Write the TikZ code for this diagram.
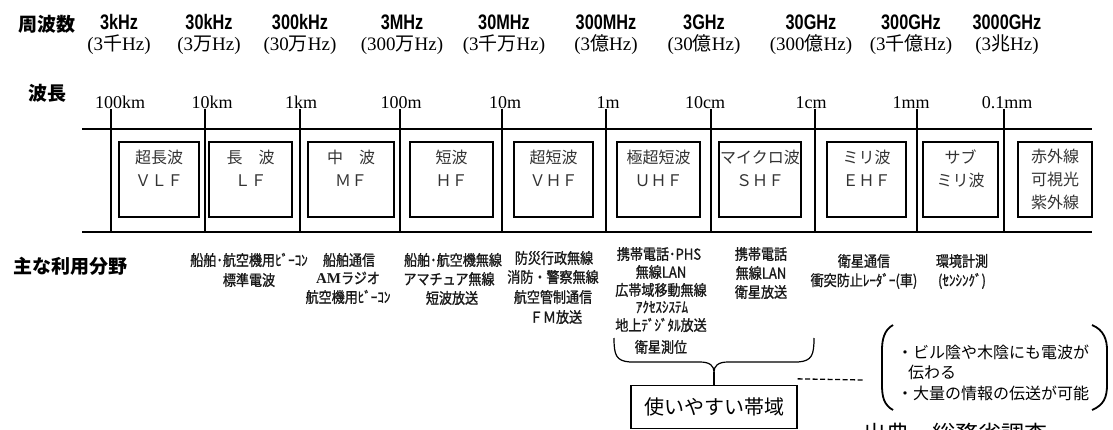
\documentclass[tikz,border=0pt]{standalone}
\usepackage{fontspec}
\setmainfont{Liberation Serif}
\newfontfamily\jp{Noto Sans CJK JP}
\newfontfamily\jpc[FakeStretch=0.87,FakeBold=1.2]{Noto Sans CJK JP}
\newfontfamily\fqf[FakeStretch=0.775]{Liberation Sans}
\newcommand{\pxs}[1]{\fontsize{#1pt}{#1pt}\selectfont}
\tikzset{
  freq/.style={font=\fqf\bfseries\pxs{21}, anchor=base, inner sep=0},
  freqjp/.style={font=\pxs{19}, anchor=base, inner sep=0},
  wave/.style={font=\pxs{18}, anchor=base, inner sep=0},
  head/.style={font=\jp\bfseries\pxs{19}, inner sep=0},
  band/.style={draw, line width=1.1pt, minimum height=75pt, inner sep=0, align=center,
    font=\jp\fontsize{16pt}{23pt}\selectfont, text=black!80},
  use/.style={font=\jpc\pxs{15}, inner sep=0, text=black!90},
  notetxt/.style={font=\jp\pxs{16}, inner sep=0, anchor=west},
  rule/.style={line width=1.2pt},
}
\begin{document}
\begin{tikzpicture}[x=1pt,y=-1pt]
\useasboundingbox (0,0) rectangle (1113,430);
\clip (0,0) rectangle (1113,430);

% headers
\node[head] (hfreq) at (47,24) {周波数};
\node[head] (hwave) at (47,93) {波長};
\node[head] (huse) at (70,266) {主な利用分野};

% frequency labels
\foreach \x/\a/\b [count=\i] in {
  119/3kHz/{(3{\jp 千}Hz)},
  209/30kHz/{(3{\jp 万}Hz)},
  300/300kHz/{(30{\jp 万}Hz)},
  402/3MHz/{(300{\jp 万}Hz)},
  504/30MHz/{(3{\jp 千万}Hz)},
  606/300MHz/{(3{\jp 億}Hz)},
  704/3GHz/{(30{\jp 億}Hz)},
  811/30GHz/{(300{\jp 億}Hz)},
  911/300GHz/{(3{\jp 千億}Hz)},
  1007/3000GHz/{(3{\jp 兆}Hz)}}
{
  \node[freq] (f\i) at (\x,30) {\a};
  \node[freqjp] (g\i) at (\x,51) {\b};
}

% main lines
\coordinate (tl) at (82,129);
\coordinate (tr) at (1092,129);
\coordinate (bl) at (82,232);
\coordinate (br) at (1092,232);
\draw[rule] (tl) -- (tr);
\draw[rule] (bl) -- (br);

% wavelength labels and ticks
\foreach \xc/\xt/\lab [count=\i] in {
  120/111/100km, 212/205/10km, 301/300/1km, 401/400/100m, 505/502/10m,
  608/606/1m, 705/711/10cm, 811/815/1cm, 911/917/1mm, 1007/1004/0.1mm}
{
  \node[wave] (w\i) at (\xc,109) {\lab};
  \coordinate (t\i) at (\xt,232);
  \draw[rule] (t\i |- w\i.south) -- (t\i);
}

% band boxes
\foreach \c/\w/\txt [count=\i] in {
  159/80/{超長波\\ＶＬＦ\\\mbox{}},
  250.5/83/{長　波\\ＬＦ\\\mbox{}},
  351/86/{中　波\\ＭＦ\\\mbox{}},
  451.5/83/{短波\\ＨＦ\\\mbox{}},
  553.5/79/{超短波\\ＶＨＦ\\\mbox{}},
  658.5/83/{極超短波\\ＵＨＦ\\\mbox{}},
  760/82/{マイクロ波\\ＳＨＦ\\\mbox{}},
  866.5/79/{ミリ波\\ＥＨＦ\\\mbox{}},
  960.5/75/{サブ\\ミリ波\\\mbox{}},
  1055/74/{赤外線\\可視光\\紫外線}}
{
  \node[band, minimum width=\w pt] (b\i) at (\c,179.5) {\txt};
}

% usage texts
\node[use] (u1a) at (249,260) {船舶･航空機用ﾋﾞｰｺﾝ};
\node[use] (u1b) at (249,280) {標準電波};
\node[use] (u2a) at (349,260) {船舶通信};
\node[use] (u2b) at (348,278) {{\rmfamily\bfseries\pxs{15}AM}ラジオ};
\node[use] (u2c) at (348,297) {航空機用ﾋﾞｰｺﾝ};
\node[use] (u3a) at (453,260) {船舶･航空機無線};
\node[use] (u3b) at (449,279) {アマチュア無線};
\node[use] (u3c) at (452,298) {短波放送};
\node[use] (u4a) at (554,258) {防災行政無線};
\node[use] (u4b) at (553,277) {消防・警察無線};
\node[use] (u4c) at (553,297) {航空管制通信};
\node[use] (u4d) at (556,317) {ＦＭ放送};
\node[use] (u5a) at (659,254) {携帯電話･PHS};
\node[use] (u5b) at (661,272) {無線LAN};
\node[use] (u5c) at (661,290) {広帯域移動無線};
\node[use] (u5d) at (662,307) {ｱｸｾｽｼｽﾃﾑ};
\node[use] (u5e) at (661,325) {地上ﾃﾞｼﾞﾀﾙ放送};
\node[use] (u5f) at (661,347) {衛星測位};
\node[use] (u6a) at (761,254) {携帯電話};
\node[use] (u6b) at (761,273) {無線LAN};
\node[use] (u6c) at (761,292) {衛星放送};
\node[use] (u7a) at (864,261) {衛星通信};
\node[use] (u7b) at (864,281) {衝突防止ﾚｰﾀﾞｰ(車)};
\node[use] (u8a) at (962,261) {環境計測};
\node[use] (u8b) at (962,281) {(ｾﾝｼﾝｸﾞ)};

% easy band box and brace
\node[draw, line width=1.3pt, minimum width=166pt, minimum height=43pt, inner sep=0,
  font=\jp\pxs{20}] (ubox) at (714,407) {使いやすい帯域};
\coordinate (cusp) at (714,372);
\draw[line width=1.2pt] (614,338) .. controls (614,355) and (616,361) .. (630,362)
  -- (700,362) .. controls (710,362) and (714,366) .. (cusp)
  .. controls (714,366) and (718,362) .. (728,362) -- (798,362)
  .. controls (812,361) and (814,355) .. (814,338);
\draw[line width=1.2pt] (cusp) -- (ubox.north);

% dashed link
\coordinate (dashend) at (863,380);
\draw[line width=1.3pt, dash pattern=on 5pt off 2.5pt] ([yshift=6pt]ubox.north east) -- (dashend);

% note with parentheses
\node[notetxt] (n1) at (897,352) {・ビル陰や木陰にも電波が};
\node[notetxt] (n2) at (908,372) {伝わる};
\node[notetxt] (n3) at (897,393) {・大量の情報の伝送が可能};
\draw[line width=1.8pt] (893,325) .. controls (884,330) and (882,340) .. (882,350)
  -- (882,385) .. controls (882,397) and (884,405) .. (893,410);
\draw[line width=1.8pt] (1092,325) .. controls (1104,330) and (1107,340) .. (1107,350)
  -- (1107,385) .. controls (1107,397) and (1104,405) .. (1092,410);

% source
\node[font=\jp\pxs{23}, anchor=base west, inner sep=0] (src) at (863,442) {出典　総務省調査};
\end{tikzpicture}
\end{document}
